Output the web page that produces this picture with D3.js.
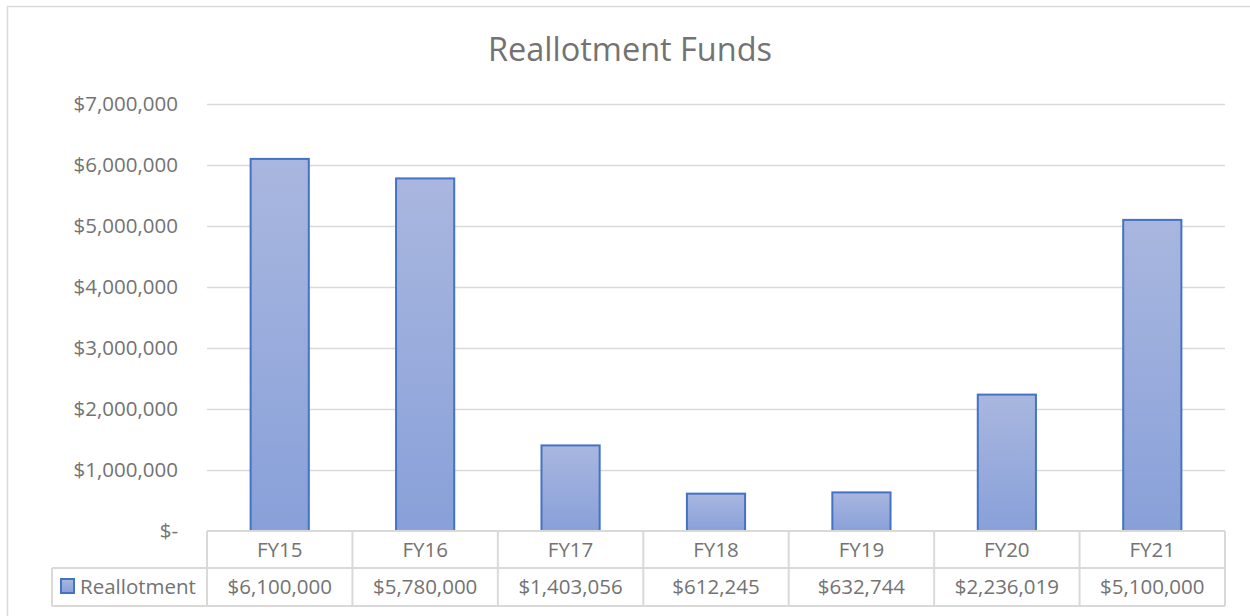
<!DOCTYPE html>
<html>
<head>
<meta charset="utf-8">
<script src="https://cdn.jsdelivr.net/npm/d3@7"></script>
<style>
body { margin:0; background:#fff; }
text { font-family: "Open Sans", sans-serif; fill:#737373; }
</style>
</head>
<body>
<svg id="chart" width="1250" height="616"></svg>
<script>
// chart data
var years = ["FY15", "FY16", "FY17", "FY18", "FY19", "FY20", "FY21"];
var funds = [6100000, 5780000, 1403056, 612245, 632744, 2236019, 5100000];
var yTicks = [0, 1000000, 2000000, 3000000, 4000000, 5000000, 6000000, 7000000];
var seriesName = "Reallotment";

var svg = d3.select("#chart");

// outer chart border
svg.append("rect")
.attr("x", 7.5).attr("y", 6.5)
.attr("width", 1260).attr("height", 620)
.attr("fill", "none")
.attr("stroke", "#d9d9d9")
.attr("stroke-width", 1.5);

// title
svg.append("text")
.attr("x", 630).attr("y", 61)
.attr("text-anchor", "middle")
.style("font-size", "32.5px")
.text("Reallotment Funds");

// plot area
var plotLeft = 207, plotRight = 1225, plotTop = 104, plotBottom = 531;
var labelSize = "20.5px";

var x = d3.scaleBand()
.domain(years)
.range([plotLeft, plotRight])
.paddingInner(0.6)
.paddingOuter(0.3);

var xCell = d3.scaleBand()
.domain(years)
.range([plotLeft, plotRight]);

var y = d3.scaleLinear()
.domain([0, 7000000])
.range([plotBottom, plotTop]);

var fmt = d3.format("$,");

// gridlines + labels
var yAxis = svg.append("g")
.attr("transform", "translate(" + plotLeft + ",0)")
.call(d3.axisLeft(y).tickValues(yTicks).tickSize(-(plotRight - plotLeft)).tickPadding(29)
  .tickFormat(function(d){ return d === 0 ? "$-" : fmt(d); }));
yAxis.select(".domain").remove();
yAxis.selectAll(".tick line").attr("stroke", "#d9d9d9").attr("stroke-width", 1.5);
yAxis.selectAll(".tick text").style("font-size", labelSize).attr("fill", "#737373")
.style("font-family", "'Open Sans', sans-serif");
yAxis.selectAll(".tick").filter(function(d){ return d === 0; }).select("line").remove();

// gradient for bars
var grad = svg.append("defs").append("linearGradient")
.attr("id", "barGrad").attr("x1", 0).attr("y1", 0).attr("x2", 0).attr("y2", 1);
grad.append("stop").attr("offset", "0%").attr("stop-color", "#a9b7df");
grad.append("stop").attr("offset", "100%").attr("stop-color", "#88a0d9");

// bars
svg.append("g")
.selectAll("rect")
.data(years)
.enter()
.append("rect")
.attr("x", function(d){ return x(d); })
.attr("y", function(d, i){ return y(funds[i]); })
.attr("width", x.bandwidth())
.attr("height", function(d, i){ return plotBottom - y(funds[i]); })
.attr("fill", "url(#barGrad)")
.attr("stroke", "#4472c4")
.attr("stroke-width", 2);

// data table
var row1 = 531, row2 = 568, row3 = 606, legendLeft = 52;
var tbl = svg.append("g");
var lineColor = "#d9d9d9";

tbl.append("line").attr("x1", plotLeft).attr("x2", plotRight).attr("y1", row1).attr("y2", row1)
.attr("stroke", lineColor).attr("stroke-width", 2);
tbl.append("line").attr("x1", legendLeft).attr("x2", plotRight).attr("y1", row2).attr("y2", row2)
.attr("stroke", lineColor).attr("stroke-width", 2);
tbl.append("line").attr("x1", legendLeft).attr("x2", plotRight).attr("y1", row3).attr("y2", row3)
.attr("stroke", lineColor).attr("stroke-width", 2);
tbl.append("line").attr("x1", legendLeft).attr("x2", legendLeft).attr("y1", row2).attr("y2", row3)
.attr("stroke", lineColor).attr("stroke-width", 2);

tbl.selectAll(".vline")
.data(years.concat(["end"]))
.enter()
.append("line")
.attr("x1", function(d){ return d === "end" ? plotRight : xCell(d); })
.attr("x2", function(d){ return d === "end" ? plotRight : xCell(d); })
.attr("y1", row1).attr("y2", row3)
.attr("stroke", lineColor).attr("stroke-width", 2);

tbl.selectAll(".cat")
.data(years)
.enter()
.append("text")
.attr("x", function(d){ return xCell(d) + xCell.bandwidth() / 2; })
.attr("y", row1 + 26)
.attr("text-anchor", "middle")
.style("font-size", labelSize)
.text(function(d){ return d; });

tbl.selectAll(".val")
.data(years)
.enter()
.append("text")
.attr("x", function(d){ return xCell(d) + xCell.bandwidth() / 2; })
.attr("y", row2 + 26)
.attr("text-anchor", "middle")
.style("font-size", labelSize)
.text(function(d, i){ return fmt(funds[i]); });

// legend key
tbl.append("rect")
.attr("x", 61).attr("y", 579).attr("width", 13).attr("height", 14)
.attr("fill", "url(#barGrad)").attr("stroke", "#4472c4").attr("stroke-width", 2);
tbl.append("text")
.attr("x", 80).attr("y", row2 + 26)
.style("font-size", labelSize)
.text(seriesName);
</script>
</body>
</html>
